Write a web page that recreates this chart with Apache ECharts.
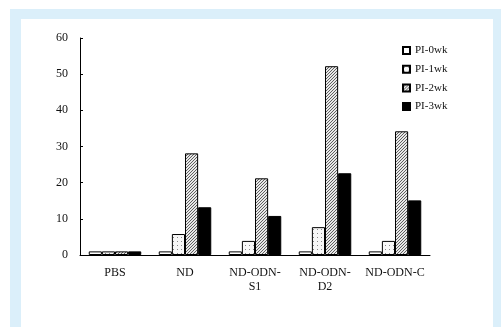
<!DOCTYPE html>
<html><head><meta charset="utf-8">
<script src="https://cdn.jsdelivr.net/npm/echarts@6/dist/echarts.min.js"></script>
<style>html,body{margin:0;padding:0;background:#fff}#c{width:501px;height:327px}</style>
</head><body><div id="c"></div>
<script>
const categories = ['PBS', 'ND', 'ND-ODN-\nS1', 'ND-ODN-\nD2', 'ND-ODN-C'];
const seriesNames = ['PI-0wk', 'PI-1wk', 'PI-2wk', 'PI-3wk'];
const pi0 = [1, 1, 1, 1, 1];
const pi1 = [1, 5.8, 3.9, 7.7, 3.9];
const pi2 = [1, 28.1, 21.2, 52.2, 34.2];
const pi3 = [1, 13.2, 10.8, 22.6, 15.1];
const yTicks = [0, 10, 20, 30, 40, 50, 60];

function dotPattern(){
  const c = document.createElement('canvas'); c.width = 4; c.height = 4;
  const g = c.getContext('2d');
  g.fillStyle = '#f7f7f7'; g.fillRect(0,0,4,4);
  g.fillStyle = '#888'; g.fillRect(1,1,1,1);
  return c;
}
function hatchPattern(){
  const c = document.createElement('canvas'); c.width = 3; c.height = 3;
  const g = c.getContext('2d');
  g.fillStyle = '#e8e8e8'; g.fillRect(0,0,3,3);
  g.fillStyle = '#606060';
  for (let i = 0; i < 3; i++) g.fillRect(2 - i, i, 1, 1);
  return c;
}
const fills = [
  '#ffffff',
  {image: dotPattern(), repeat: 'repeat'},
  {image: hatchPattern(), repeat: 'repeat'},
  '#000000'
];
const data = [pi0, pi1, pi2, pi3];
const font = '"Liberation Serif", "Times New Roman", serif';

const chart = echarts.init(document.getElementById('c'), null, {renderer: 'canvas'});
chart.setOption({
  animation: false,
  graphic: [
    {type: 'rect', z: -10, shape: {x: 10, y: 9, width: 491, height: 318}, style: {fill: '#dbeffa'}},
    {type: 'rect', z: -9, shape: {x: 21, y: 19, width: 472, height: 308}, style: {fill: '#ffffff'}}
  ],
  grid: {left: 80, right: 71, top: 38, bottom: 72},
  legend: {
    orient: 'vertical', left: 397, top: 39,
    itemWidth: 7, itemHeight: 7, itemGap: 5.7,
    icon: 'rect',
    textStyle: {fontFamily: font, fontSize: 11, color: '#111', lineHeight: 13},
    data: seriesNames
  },
  xAxis: {
    type: 'category', data: categories,
    axisLine: {lineStyle: {color: '#000', width: 1}},
    axisTick: {inside: true, length: 4, lineStyle: {color: '#000'}},
    axisLabel: {fontFamily: font, fontSize: 12, color: '#111', margin: 11, lineHeight: 14, interval: 0}
  },
  yAxis: {
    type: 'value', min: 0, max: 60, interval: 10,
    splitLine: {show: false},
    axisLine: {show: true, lineStyle: {color: '#000', width: 1}},
    axisTick: {show: true, inside: true, length: 3, lineStyle: {color: '#000'}},
    axisLabel: {fontFamily: font, fontSize: 12, color: '#111', margin: 12,
      formatter: v => yTicks.includes(v) ? String(v) : ''}
  },
  series: seriesNames.map((n, i) => ({
    name: n, type: 'bar', data: data[i],
    barGap: '0%', barCategoryGap: '25%',
    itemStyle: {color: fills[i], borderColor: '#000', borderWidth: 1}
  }))
});
</script></body></html>
